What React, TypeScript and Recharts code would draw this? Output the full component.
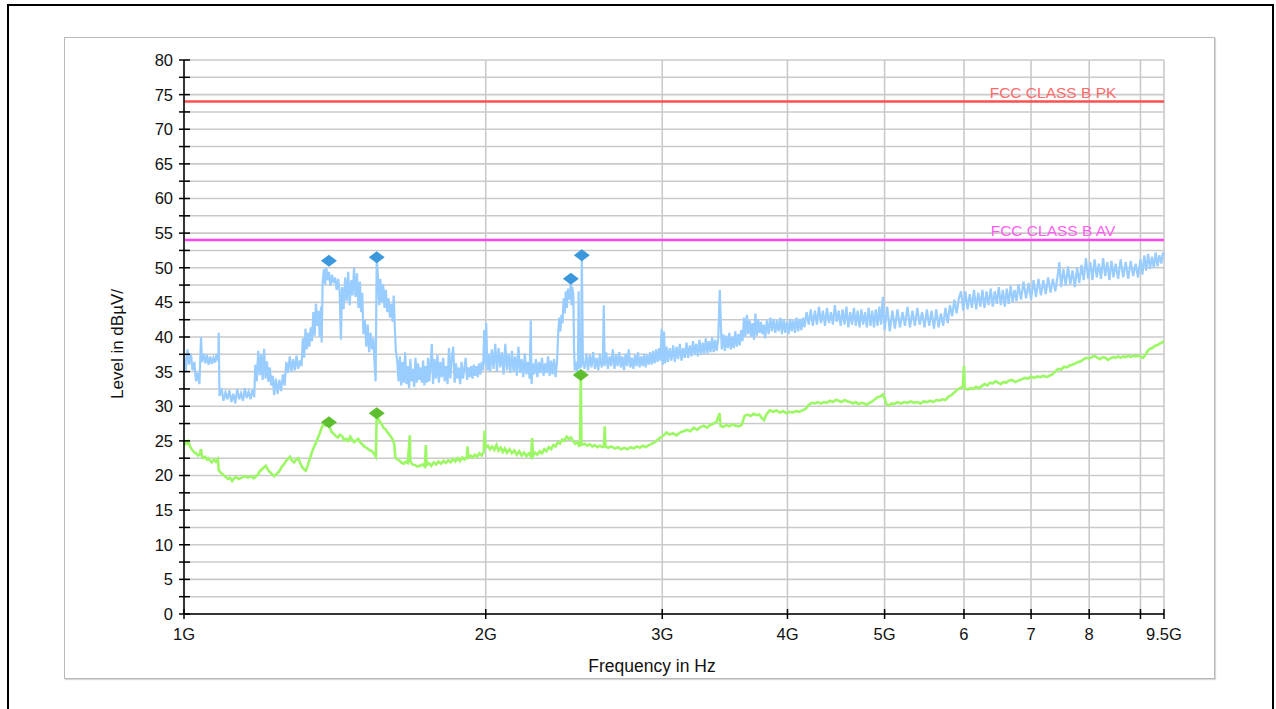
import React from 'react';
import { ComposedChart, Line, Scatter, XAxis, YAxis, CartesianGrid, ReferenceLine, Label } from 'recharts';

// frequency in MHz, level in dBµV
const peakTrace: [number, number][] = [
  [1000, 37.5], [1004, 35.0], [1008, 38.2], [1012, 36.0], [1016, 37.6], [1020, 35.2], [1024, 36.4], [1028, 33.6],
  [1032, 34.8], [1036, 33.2], [1040, 40.0], [1042, 36.4], [1046, 37.6], [1050, 36.2], [1054, 37.4], [1058, 36.0],
  [1062, 37.2], [1066, 36.1], [1070, 37.0], [1074, 36.3], [1078, 37.6], [1082, 36.5], [1083, 40.6], [1085, 31.5],
  [1090, 32.6], [1095, 30.8], [1100, 32.0], [1105, 31.0], [1110, 32.3], [1115, 30.6], [1120, 31.8], [1125, 30.4],
  [1130, 32.5], [1135, 31.0], [1140, 31.9], [1145, 30.8], [1150, 32.6], [1155, 31.2], [1160, 32.1], [1165, 31.0],
  [1170, 32.4], [1175, 31.3], [1178, 36.0], [1182, 33.6], [1186, 38.0], [1190, 34.5], [1194, 37.5], [1198, 33.8],
  [1202, 38.3], [1206, 34.0], [1210, 36.5], [1214, 33.5], [1218, 35.6], [1222, 33.0], [1226, 34.4], [1230, 31.6],
  [1235, 34.0], [1240, 31.8], [1245, 33.8], [1250, 32.2], [1255, 34.6], [1260, 33.0], [1265, 36.4], [1270, 34.8],
  [1275, 37.2], [1280, 35.0], [1285, 36.8], [1290, 35.2], [1295, 37.3], [1300, 35.4], [1305, 36.6], [1310, 35.8],
  [1314, 39.8], [1318, 37.0], [1322, 41.2], [1326, 38.2], [1330, 40.6], [1334, 38.6], [1338, 41.4], [1342, 39.4],
  [1346, 43.6], [1350, 40.2], [1354, 44.8], [1358, 41.6], [1362, 43.8], [1366, 40.0], [1370, 44.4], [1372, 39.2],
  [1375, 47.8], [1379, 49.8], [1383, 47.6], [1387, 50.0], [1391, 48.2], [1395, 49.4], [1400, 47.4], [1405, 49.0],
  [1410, 47.8], [1415, 48.6], [1420, 46.8], [1425, 48.4], [1430, 46.4], [1434, 39.6], [1438, 47.2], [1443, 44.0],
  [1448, 48.6], [1453, 45.2], [1458, 49.4], [1463, 44.6], [1468, 48.2], [1473, 46.0], [1478, 50.0], [1483, 45.8],
  [1488, 49.2], [1493, 44.2], [1498, 48.0], [1502, 43.6], [1506, 46.4], [1510, 40.4], [1515, 42.5], [1520, 38.6],
  [1525, 41.8], [1530, 37.8], [1535, 40.6], [1540, 38.2], [1545, 39.8], [1550, 35.6], [1553, 33.6], [1557, 51.5],
  [1561, 48.8], [1566, 44.6], [1570, 48.4], [1575, 45.0], [1580, 47.6], [1585, 44.2], [1590, 46.8], [1595, 43.6],
  [1600, 45.6], [1605, 42.8], [1610, 44.8], [1615, 42.2], [1619, 46.0], [1623, 41.4], [1627, 38.0], [1632, 36.6],
  [1637, 33.6], [1642, 37.2], [1647, 33.0], [1652, 36.4], [1657, 33.4], [1662, 37.8], [1667, 33.2], [1672, 35.8],
  [1677, 32.6], [1682, 36.8], [1687, 33.6], [1692, 35.4], [1697, 32.8], [1702, 37.0], [1707, 33.4], [1712, 36.2],
  [1717, 33.8], [1722, 35.6], [1727, 33.4], [1732, 36.6], [1737, 33.0], [1742, 35.8], [1747, 33.4], [1752, 37.0],
  [1757, 33.6], [1762, 36.0], [1767, 39.0], [1772, 33.2], [1778, 36.8], [1784, 34.0], [1790, 37.4], [1796, 33.4],
  [1802, 36.4], [1808, 34.2], [1814, 37.0], [1820, 33.6], [1826, 35.8], [1832, 33.2], [1838, 38.4], [1844, 34.0],
  [1850, 37.0], [1856, 38.6], [1862, 33.4], [1868, 36.2], [1874, 34.0], [1880, 35.6], [1886, 33.2], [1892, 36.4],
  [1898, 34.0], [1904, 35.4], [1910, 37.0], [1916, 33.8], [1922, 35.6], [1928, 34.2], [1934, 35.8], [1940, 34.0],
  [1946, 36.0], [1952, 34.4], [1958, 35.8], [1964, 34.2], [1970, 36.2], [1976, 34.6], [1982, 36.4], [1988, 35.2],
  [1993, 41.0], [1997, 36.0], [2002, 42.0], [2008, 35.2], [2014, 37.6], [2020, 35.0], [2028, 38.2], [2036, 35.4],
  [2044, 39.0], [2052, 35.0], [2060, 38.4], [2068, 35.6], [2076, 37.8], [2084, 34.6], [2092, 39.0], [2100, 35.2],
  [2108, 37.6], [2116, 34.8], [2124, 38.0], [2132, 35.0], [2140, 37.2], [2148, 34.4], [2156, 38.6], [2164, 34.8],
  [2172, 36.8], [2180, 34.2], [2188, 37.6], [2196, 34.6], [2204, 36.4], [2212, 34.0], [2218, 42.4], [2222, 33.2],
  [2228, 36.2], [2236, 34.6], [2244, 36.8], [2252, 34.2], [2260, 36.4], [2268, 34.8], [2276, 37.0], [2284, 34.4],
  [2292, 36.2], [2300, 34.8], [2308, 37.2], [2316, 34.4], [2324, 36.6], [2332, 34.6], [2340, 36.8], [2348, 34.2],
  [2356, 36.4], [2362, 40.4], [2368, 42.8], [2374, 40.8], [2380, 43.2], [2386, 42.0], [2392, 45.6], [2398, 43.4],
  [2404, 46.6], [2410, 44.2], [2416, 47.0], [2422, 45.4], [2428, 46.4], [2432, 48.0], [2436, 44.6], [2440, 47.2],
  [2446, 46.0], [2450, 38.0], [2454, 35.2], [2460, 36.4], [2466, 35.0], [2472, 36.0], [2476, 46.6], [2480, 35.4],
  [2486, 36.0], [2490, 35.6], [2494, 51.8], [2500, 36.4], [2510, 35.4], [2520, 37.6], [2530, 35.2], [2540, 37.4],
  [2550, 35.6], [2560, 37.8], [2570, 35.4], [2580, 37.0], [2590, 35.2], [2600, 37.6], [2610, 35.6], [2618, 36.8],
  [2623, 44.6], [2628, 35.8], [2638, 37.8], [2648, 35.4], [2658, 37.2], [2668, 35.8], [2678, 38.2], [2688, 35.4],
  [2698, 37.4], [2708, 35.8], [2718, 37.8], [2728, 35.6], [2738, 37.2], [2748, 35.2], [2758, 37.6], [2768, 35.8],
  [2778, 38.2], [2788, 35.6], [2798, 37.0], [2808, 35.4], [2818, 37.4], [2828, 35.8], [2838, 37.8], [2848, 35.6],
  [2858, 37.2], [2868, 35.8], [2878, 37.6], [2888, 35.6], [2898, 37.4], [2908, 36.0], [2918, 37.8], [2928, 36.0],
  [2938, 38.0], [2948, 36.2], [2958, 38.2], [2968, 36.4], [2978, 38.4], [2988, 36.6], [2996, 41.2], [3004, 36.0],
  [3012, 40.8], [3020, 36.2], [3030, 38.6], [3040, 36.4], [3052, 38.4], [3064, 36.6], [3076, 38.8], [3088, 36.4],
  [3100, 38.6], [3112, 36.8], [3124, 39.0], [3136, 36.6], [3148, 38.4], [3160, 37.0], [3172, 39.2], [3184, 37.0],
  [3196, 38.8], [3208, 37.2], [3220, 39.4], [3232, 37.4], [3244, 39.0], [3256, 37.2], [3268, 39.6], [3280, 37.4],
  [3292, 39.2], [3304, 37.6], [3316, 39.8], [3328, 37.6], [3340, 39.4], [3352, 37.8], [3364, 40.0], [3376, 37.8],
  [3388, 39.6], [3400, 38.0], [3412, 39.8], [3424, 46.8], [3432, 42.0], [3440, 38.2], [3452, 40.4], [3464, 38.0],
  [3476, 40.2], [3488, 38.4], [3500, 40.6], [3512, 38.2], [3524, 40.0], [3536, 38.4], [3548, 40.8], [3560, 38.6],
  [3572, 40.4], [3584, 38.8], [3596, 41.0], [3608, 39.4], [3620, 42.8], [3632, 40.0], [3644, 43.2], [3656, 40.4],
  [3668, 42.4], [3680, 40.0], [3692, 42.0], [3704, 39.6], [3716, 43.4], [3728, 40.2], [3740, 42.6], [3752, 40.6],
  [3764, 42.2], [3776, 40.4], [3788, 41.8], [3800, 39.8], [3815, 42.4], [3830, 40.4], [3845, 42.8], [3860, 40.8],
  [3875, 42.6], [3890, 40.6], [3905, 42.4], [3920, 40.8], [3935, 42.8], [3950, 40.4], [3965, 42.6], [3980, 40.6],
  [3995, 42.2], [4010, 40.4], [4025, 42.6], [4040, 40.8], [4055, 42.4], [4070, 40.6], [4085, 42.8], [4100, 40.8],
  [4115, 42.6], [4130, 41.0], [4145, 42.8], [4160, 41.4], [4180, 43.6], [4200, 41.8], [4220, 44.0], [4240, 41.6],
  [4260, 43.8], [4280, 41.8], [4300, 44.4], [4320, 42.0], [4340, 43.8], [4360, 41.6], [4380, 44.2], [4400, 42.0],
  [4420, 43.6], [4440, 41.8], [4460, 44.6], [4480, 42.2], [4500, 43.8], [4520, 41.6], [4540, 44.0], [4560, 41.8],
  [4580, 44.4], [4600, 41.4], [4620, 43.6], [4640, 41.8], [4660, 44.2], [4680, 41.6], [4700, 43.8], [4720, 41.4],
  [4740, 44.0], [4760, 41.8], [4780, 43.6], [4800, 41.4], [4820, 44.2], [4840, 41.6], [4860, 43.8], [4880, 41.4],
  [4900, 44.0], [4920, 41.6], [4940, 44.4], [4960, 41.8], [4980, 45.8], [5000, 41.0], [5030, 44.4], [5060, 40.8],
  [5090, 43.8], [5120, 41.2], [5150, 44.0], [5180, 41.4], [5210, 43.6], [5240, 41.6], [5270, 44.4], [5300, 41.4],
  [5330, 43.8], [5360, 41.6], [5390, 44.2], [5420, 41.8], [5450, 43.6], [5480, 41.4], [5510, 44.0], [5540, 41.6],
  [5570, 43.8], [5600, 41.2], [5630, 44.0], [5660, 41.4], [5690, 43.4], [5720, 41.6], [5750, 44.2], [5780, 42.0],
  [5810, 44.6], [5840, 43.0], [5870, 45.4], [5900, 43.4], [5930, 45.6], [5960, 46.6], [5990, 43.8], [6020, 46.6],
  [6050, 44.0], [6080, 46.2], [6110, 44.2], [6140, 46.8], [6170, 44.0], [6200, 46.4], [6230, 44.4], [6260, 46.8],
  [6290, 44.2], [6320, 46.6], [6350, 44.6], [6380, 47.0], [6410, 44.4], [6440, 46.6], [6470, 44.8], [6500, 47.2],
  [6530, 44.6], [6560, 46.8], [6590, 44.4], [6620, 47.0], [6650, 44.8], [6680, 47.4], [6710, 45.0], [6740, 46.8],
  [6770, 45.2], [6800, 47.6], [6840, 45.4], [6880, 48.0], [6920, 45.6], [6960, 47.8], [7000, 45.4], [7040, 48.2],
  [7080, 45.8], [7120, 48.4], [7160, 46.0], [7200, 48.2], [7240, 46.2], [7280, 48.6], [7320, 46.4], [7360, 48.4],
  [7400, 46.6], [7440, 48.8], [7470, 50.8], [7500, 47.2], [7540, 49.8], [7580, 47.4], [7620, 50.2], [7660, 47.6],
  [7700, 49.6], [7740, 47.2], [7780, 50.0], [7820, 47.8], [7860, 50.4], [7900, 48.2], [7940, 51.4], [7980, 48.4],
  [8020, 50.8], [8060, 48.2], [8100, 51.2], [8140, 48.6], [8180, 50.6], [8220, 48.4], [8260, 51.4], [8300, 48.8],
  [8340, 50.8], [8380, 48.2], [8420, 51.0], [8460, 48.6], [8500, 50.6], [8550, 48.4], [8600, 51.2], [8650, 48.6],
  [8700, 50.8], [8750, 48.4], [8800, 51.0], [8850, 48.8], [8900, 50.6], [8950, 48.6], [9000, 51.2], [9040, 49.0],
  [9080, 51.8], [9120, 49.6], [9160, 52.0], [9200, 49.8], [9240, 51.6], [9280, 50.0], [9320, 52.2], [9360, 50.2],
  [9400, 51.8], [9440, 50.6], [9480, 52.2], [9500, 51.6],
];

const avgTrace: [number, number][] = [
  [1000, 24.2], [1003, 24.9], [1007, 24.6], [1010, 24.9], [1014, 24.2], [1018, 23.8], [1023, 23.4], [1028, 23.2],
  [1033, 22.9], [1037, 23.1], [1040, 23.8], [1042, 22.8], [1045, 22.5], [1050, 22.7], [1054, 22.3], [1057, 22.5],
  [1062, 22.1], [1066, 21.9], [1071, 22.3], [1076, 22.0], [1081, 22.4], [1083, 20.8], [1088, 20.4], [1094, 20.1],
  [1100, 19.8], [1106, 19.5], [1111, 19.7], [1117, 19.2], [1122, 19.6], [1127, 19.8], [1134, 19.5], [1142, 19.7],
  [1150, 19.9], [1158, 19.7], [1166, 19.9], [1174, 19.6], [1180, 19.9], [1185, 20.1], [1190, 20.6], [1196, 20.9],
  [1202, 21.2], [1207, 21.4], [1212, 20.9], [1218, 20.5], [1224, 20.2], [1230, 19.9], [1236, 20.2], [1241, 20.4],
  [1247, 20.8], [1252, 21.3], [1258, 21.6], [1264, 22.1], [1270, 22.4], [1276, 22.7], [1282, 22.1], [1288, 21.9],
  [1294, 22.3], [1300, 22.5], [1305, 21.9], [1311, 21.3], [1317, 20.9], [1323, 20.7], [1329, 21.5], [1335, 22.4],
  [1341, 23.3], [1347, 24.0], [1353, 24.6], [1360, 25.4], [1366, 26.1], [1372, 26.9], [1378, 27.4], [1385, 27.2],
  [1391, 27.6], [1398, 26.9], [1404, 26.3], [1411, 26.0], [1417, 25.7], [1424, 25.5], [1431, 25.9], [1438, 25.7],
  [1444, 25.1], [1451, 25.3], [1458, 25.0], [1465, 25.6], [1471, 25.2], [1478, 24.8], [1485, 25.1], [1492, 25.3],
  [1499, 24.8], [1506, 24.5], [1513, 24.2], [1520, 24.0], [1527, 23.8], [1534, 23.6], [1541, 23.5], [1548, 23.1],
  [1554, 22.7], [1557, 29.0], [1562, 28.2], [1568, 27.8], [1575, 27.4], [1581, 26.9], [1588, 26.7], [1595, 26.3],
  [1603, 25.9], [1608, 25.6], [1614, 25.3], [1621, 24.5], [1625, 22.6], [1632, 22.3], [1642, 22.1], [1650, 21.8],
  [1657, 21.7], [1664, 22.0], [1672, 21.8], [1680, 25.8], [1682, 22.0], [1690, 21.6], [1700, 21.5], [1710, 21.3],
  [1719, 21.4], [1729, 21.6], [1739, 21.3], [1743, 24.4], [1746, 21.5], [1755, 21.8], [1765, 21.4], [1775, 21.9],
  [1785, 21.6], [1795, 22.0], [1805, 21.7], [1815, 22.1], [1825, 21.8], [1835, 22.2], [1845, 21.9], [1855, 22.4],
  [1865, 22.0], [1875, 22.5], [1885, 22.1], [1895, 22.6], [1905, 22.3], [1915, 22.7], [1918, 24.2], [1921, 22.6],
  [1931, 22.9], [1941, 22.6], [1951, 23.0], [1961, 22.7], [1971, 23.2], [1981, 22.9], [1991, 23.4], [1995, 26.5],
  [1998, 24.0], [2010, 24.3], [2020, 23.8], [2030, 24.2], [2040, 23.7], [2050, 24.4], [2060, 23.6], [2070, 24.0],
  [2080, 23.4], [2090, 23.9], [2100, 23.3], [2112, 23.8], [2124, 23.2], [2136, 23.6], [2148, 23.0], [2160, 23.5],
  [2172, 22.9], [2184, 23.3], [2196, 22.8], [2208, 23.2], [2220, 22.7], [2225, 25.4], [2229, 22.8], [2240, 23.3],
  [2252, 23.0], [2264, 23.5], [2276, 23.2], [2288, 23.8], [2300, 23.5], [2312, 24.1], [2324, 23.8], [2336, 24.4],
  [2348, 24.2], [2360, 24.8], [2372, 24.6], [2384, 25.2], [2396, 25.0], [2408, 25.6], [2420, 25.3], [2432, 25.5],
  [2444, 25.0], [2456, 24.6], [2468, 24.8], [2478, 24.3], [2484, 24.4], [2488, 34.4], [2492, 24.4], [2510, 24.6],
  [2525, 24.3], [2540, 24.5], [2555, 24.2], [2570, 24.4], [2585, 24.1], [2600, 24.3], [2615, 24.1], [2624, 24.2],
  [2629, 27.1], [2633, 24.2], [2650, 24.0], [2670, 24.2], [2690, 23.9], [2710, 24.1], [2730, 23.8], [2750, 24.0],
  [2770, 23.8], [2790, 24.1], [2810, 23.9], [2830, 24.2], [2850, 24.0], [2870, 24.3], [2890, 24.1], [2910, 24.4],
  [2930, 24.6], [2950, 24.8], [2970, 25.2], [2990, 25.5], [3010, 25.8], [3030, 26.2], [3050, 25.9], [3075, 26.1],
  [3100, 25.8], [3125, 26.2], [3150, 26.4], [3175, 26.6], [3200, 26.4], [3225, 26.9], [3250, 26.6], [3275, 27.0],
  [3300, 27.2], [3325, 26.9], [3350, 27.3], [3375, 27.5], [3400, 27.8], [3422, 29.0], [3430, 27.2], [3450, 27.0],
  [3475, 27.3], [3500, 27.1], [3525, 27.4], [3550, 27.2], [3575, 27.1], [3600, 27.3], [3625, 28.6], [3650, 28.8],
  [3675, 28.6], [3700, 28.9], [3725, 28.7], [3750, 28.8], [3775, 28.2], [3790, 28.0], [3810, 28.8], [3840, 29.4],
  [3870, 29.2], [3900, 29.4], [3930, 29.1], [3960, 29.3], [3990, 29.0], [4020, 29.2], [4050, 29.1], [4080, 29.3],
  [4110, 29.2], [4140, 29.4], [4170, 29.6], [4200, 30.2], [4230, 30.5], [4260, 30.4], [4290, 30.6], [4320, 30.4],
  [4350, 30.6], [4380, 30.5], [4410, 30.8], [4440, 30.6], [4470, 30.9], [4500, 30.8], [4530, 30.6], [4560, 30.9],
  [4590, 30.7], [4620, 30.6], [4650, 30.4], [4680, 30.6], [4710, 30.3], [4740, 30.5], [4770, 30.4], [4800, 30.2],
  [4830, 30.5], [4860, 30.7], [4890, 31.0], [4920, 31.3], [4950, 31.4], [4980, 31.7], [5000, 31.2], [5020, 30.3],
  [5050, 30.1], [5080, 30.4], [5110, 30.3], [5150, 30.6], [5190, 30.4], [5230, 30.6], [5270, 30.5], [5310, 30.7],
  [5350, 30.5], [5390, 30.6], [5430, 30.4], [5470, 30.7], [5510, 30.6], [5550, 30.8], [5590, 30.6], [5630, 30.9],
  [5670, 30.8], [5710, 31.0], [5750, 30.9], [5790, 31.4], [5830, 31.6], [5870, 32.0], [5910, 32.4], [5950, 32.6],
  [5985, 32.9], [6000, 35.8], [6010, 32.6], [6050, 32.4], [6090, 32.6], [6130, 32.5], [6170, 32.8], [6210, 32.6],
  [6250, 32.9], [6290, 33.2], [6330, 33.0], [6370, 33.4], [6410, 33.3], [6450, 33.6], [6490, 33.4], [6530, 33.2],
  [6570, 33.5], [6610, 33.4], [6650, 33.7], [6700, 33.8], [6750, 33.5], [6800, 33.7], [6850, 33.9], [6900, 34.1],
  [6950, 34.0], [7000, 34.3], [7050, 34.1], [7100, 34.3], [7150, 34.2], [7200, 34.4], [7250, 34.2], [7300, 34.4],
  [7350, 34.6], [7400, 35.0], [7450, 35.4], [7500, 35.3], [7550, 35.7], [7600, 35.6], [7650, 35.9], [7700, 36.0],
  [7750, 36.2], [7800, 36.4], [7850, 36.5], [7900, 36.8], [7950, 37.0], [8000, 36.9], [8050, 37.1], [8100, 37.3],
  [8150, 37.0], [8200, 36.8], [8250, 37.1], [8300, 37.0], [8350, 36.7], [8400, 36.9], [8450, 37.1], [8500, 37.0],
  [8550, 37.2], [8600, 37.0], [8650, 37.2], [8700, 37.1], [8750, 37.3], [8800, 37.1], [8850, 37.3], [8900, 37.2],
  [8950, 37.3], [9000, 37.2], [9050, 37.0], [9100, 37.4], [9150, 38.0], [9200, 38.3], [9250, 38.4], [9300, 38.7],
  [9350, 38.8], [9400, 39.0], [9450, 39.2], [9500, 39.4],
];

const peakMarkers: [number, number][] = [[1395, 51.0], [1557, 51.5], [2432, 48.4], [2494, 51.8]];
const avgMarkers: [number, number][] = [[1395, 27.7], [1557, 29.0], [2488, 34.5]];

const pkLimit = 74;
const avLimit = 54;

const xTicks = [1000, 2000, 3000, 4000, 5000, 6000, 7000, 8000, 9000, 9500];
const xTickLabels = ['1G', '2G', '3G', '4G', '5G', '6', '7', '8', '', '9.5G'];
const yTicks = [0, 2.5, 5, 7.5, 10, 12.5, 15, 17.5, 20, 22.5, 25, 27.5, 30, 32.5, 35, 37.5, 40, 42.5, 45, 47.5, 50, 52.5, 55, 57.5, 60, 62.5, 65, 67.5, 70, 72.5, 75, 77.5, 80];

const toRows = (arr: [number, number][]) => arr.map(([f, v]) => ({ f, v }));

const W = 1276;
const H = 709;
const PLOT_LEFT = 184;
const PLOT_RIGHT = 1164;
const PLOT_TOP = 60;
const PLOT_BOTTOM = 614;
const FONT = '"Liberation Sans", Arial, sans-serif';

const YTick = (props: any) => {
  const { y, payload } = props;
  const v = payload.value;
  return (
    <g>
      <line x1={PLOT_LEFT - 5} x2={PLOT_LEFT + 6} y1={y} y2={y} stroke="#000" strokeWidth={1.5} />
      {v % 5 === 0 && (
        <text x={PLOT_LEFT - 11} y={y} dy="0.36em" textAnchor="end" fontSize={16.5} fill="#111" fontFamily={FONT}>
          {v}
        </text>
      )}
    </g>
  );
};

const XTick = (props: any) => {
  const { x, payload } = props;
  const i = xTicks.indexOf(payload.value);
  return (
    <g>
      <line x1={x} x2={x} y1={PLOT_BOTTOM - 5} y2={PLOT_BOTTOM + 5} stroke="#000" strokeWidth={1.5} />
      <text x={x} y={PLOT_BOTTOM + 20} dy="0.36em" textAnchor="middle" fontSize={16.5} fill="#111" fontFamily={FONT}>
        {xTickLabels[i]}
      </text>
    </g>
  );
};

const diamond = (fill: string) => (props: any) => {
  const { cx, cy } = props;
  return <polygon points={`${cx - 8},${cy} ${cx},${cy - 6} ${cx + 8},${cy} ${cx},${cy + 6}`} fill={fill} />;
};

const limitLabel = (text: string, color: string) => (props: any) => {
  const { viewBox } = props;
  return (
    <text
      x={viewBox.x + viewBox.width - 111}
      y={viewBox.y - 4}
      textAnchor="middle"
      fontSize={15.5}
      fill={color}
      fontFamily={FONT}
    >
      {text}
    </text>
  );
};

export default function App() {
  return (
    <div style={{ position: 'absolute', left: 0, top: 0, width: W, height: H, overflow: 'hidden', background: '#fff', fontFamily: FONT }}>
      <div style={{ position: 'absolute', left: 7, top: 4, width: 1267, height: 740, border: '2px solid #000', boxSizing: 'border-box' }} />
      <div style={{ position: 'absolute', left: 64, top: 37, width: 1151, height: 642, border: '1px solid #b8b8b8', boxSizing: 'border-box', boxShadow: '1px 1px 1px #d8d8d8' }} />
      <div style={{ position: 'absolute', left: 0, top: 0 }}>
        <ComposedChart
          width={W}
          height={H}
          margin={{ top: PLOT_TOP, right: W - PLOT_RIGHT, left: PLOT_LEFT - 60, bottom: H - PLOT_BOTTOM - 40 }}
        >
          <CartesianGrid stroke="#cacaca" strokeWidth={1.6} />
          <XAxis
            dataKey="f"
            type="number"
            scale="log"
            domain={[1000, 9500]}
            allowDataOverflow
            ticks={xTicks}
            interval={0}
            height={40}
            tick={<XTick />}
            tickLine={false}
            axisLine={{ stroke: '#000', strokeWidth: 1.5 }}
          />
          <YAxis
            dataKey="v"
            type="number"
            domain={[0, 80]}
            ticks={yTicks}
            interval={0}
            width={60}
            tick={<YTick />}
            tickLine={false}
            axisLine={{ stroke: '#000', strokeWidth: 1.5 }}
          />
          <ReferenceLine y={pkLimit} stroke="#ff5050" strokeWidth={2.5}>
            <Label content={limitLabel('FCC CLASS B PK', '#ff6a6a')} />
          </ReferenceLine>
          <ReferenceLine y={avLimit} stroke="#ff44f2" strokeWidth={2.5}>
            <Label content={limitLabel('FCC CLASS B AV', '#ff5cf2')} />
          </ReferenceLine>
          <Line data={toRows(peakTrace)} dataKey="v" type="linear" stroke="#99ccff" strokeWidth={2.2} dot={false} isAnimationActive={false} />
          <Line data={toRows(avgTrace)} dataKey="v" type="linear" stroke="#9cf765" strokeWidth={2.6} dot={false} isAnimationActive={false} />
          <Scatter data={toRows(peakMarkers)} dataKey="v" shape={diamond('#3c98dc')} isAnimationActive={false} />
          <Scatter data={toRows(avgMarkers)} dataKey="v" shape={diamond('#5dbf2f')} isAnimationActive={false} />
        </ComposedChart>
      </div>
      <div style={{ position: 'absolute', left: 118, top: 344, transform: 'translate(-50%, -50%) rotate(-90deg)', whiteSpace: 'nowrap', fontSize: 17, color: '#111' }}>
        Level in dBµV/
      </div>
      <div style={{ position: 'absolute', left: 652, top: 666, transform: 'translate(-50%, -50%)', whiteSpace: 'nowrap', fontSize: 17.5, color: '#111' }}>
        Frequency in Hz
      </div>
    </div>
  );
}
